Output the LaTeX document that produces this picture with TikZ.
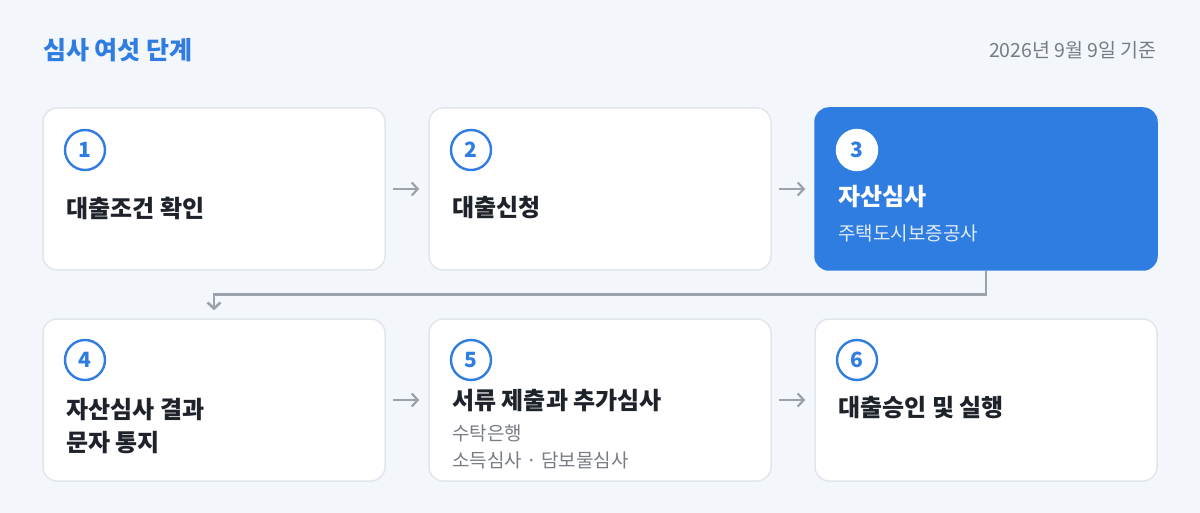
\documentclass[tikz,border=0pt]{standalone}
\usepackage{fontspec}
\setmainfont{Noto Sans CJK KR}
\usepackage{tikz}
\usetikzlibrary{arrows.meta}
\definecolor{pagebg}{HTML}{F3F6FB}
\definecolor{stepblue}{HTML}{2F7DE1}
\definecolor{cardline}{HTML}{E1E5EC}
\definecolor{titletext}{HTML}{1E232B}
\definecolor{subtext}{HTML}{787C84}
\definecolor{arrowgray}{HTML}{9CA2AB}

\begin{document}
\begin{tikzpicture}[x=1pt,y=-1pt]
\tikzset{card/.style={rectangle,rounded corners=14pt,draw=cardline,line width=1.5pt,fill=white,minimum width=342pt,minimum height=162pt},
         activecard/.style={card,draw=stepblue,fill=stepblue},
         stepnum/.style={circle,draw=stepblue,line width=2.4pt,fill=white,text=stepblue,minimum size=40pt,inner sep=0pt,font=\fontsize{21}{21}\selectfont\bfseries},
         steptitle/.style={anchor=west,inner sep=0pt,text=titletext,align=left,font=\fontsize{24}{33}\selectfont\bfseries},
         stepsub/.style={anchor=west,inner sep=0pt,text=subtext,font=\fontsize{19}{19}\selectfont},
         flow/.style={-{Straight Barb[length=6pt,width=13pt]},draw=arrowgray,line width=2.2pt}}
\fill[pagebg] (0,0) rectangle (1200,513);

% header
\node[anchor=west,inner sep=0pt,text=stepblue,font=\fontsize{25}{25}\selectfont\bfseries] (head) at (43,50) {심사 여섯 단계};
\node[anchor=east,inner sep=0pt,text=subtext,font=\fontsize{19.5}{19.5}\selectfont] (date) at (1157,50) {2026년 9월 9일 기준};

% cards
\node[card] (c1) at (214,189) {};
\node[card] (c2) at (600,189) {};
\node[activecard] (c3) at (986,189) {};
\node[card] (c4) at (214,400) {};
\node[card] (c5) at (600,400) {};
\node[card] (c6) at (986,400) {};

% numbers
\node[stepnum] (n1) at (85,150) {1};
\node[stepnum] (n2) at (471,150) {2};
\node[stepnum,draw=white,text=stepblue] (n3) at (857,150) {3};
\node[stepnum] (n4) at (85,360) {4};
\node[stepnum] (n5) at (471,360) {5};
\node[stepnum] (n6) at (857,360) {6};

% texts
\node[steptitle] (t1) at (66,208) {대출조건 확인};
\node[steptitle] (t2) at (452,208) {대출신청};
\node[steptitle,text=white] (t3) at (838,197) {자산심사};
\node[stepsub,text=white!85!stepblue] (s3) at (838,233) {주택도시보증공사};
\node[steptitle] (t4) at (66,426) {자산심사 결과\\문자 통지};
\node[steptitle] (t5) at (452,401) {서류 제출과 추가심사};
\node[stepsub] (s5a) at (452,433) {수탁은행};
\node[stepsub] (s5b) at (452,460) {소득심사 · 담보물심사};
\node[steptitle] (t6) at (838,408) {대출승인 및 실행};

% arrows
\draw[flow,shorten <=7pt,shorten >=9pt] (c1) -- (c2);
\draw[flow,shorten <=7pt,shorten >=9pt] (c2) -- (c3);
\draw[flow,shorten <=7pt,shorten >=9pt] (c4) -- (c5);
\draw[flow,shorten <=7pt,shorten >=9pt] (c5) -- (c6);
\draw[flow,line width=2.6pt,shorten >=8pt] (c3.south) -- ++(0,24) -| (c4.north);
\end{tikzpicture}
\end{document}
